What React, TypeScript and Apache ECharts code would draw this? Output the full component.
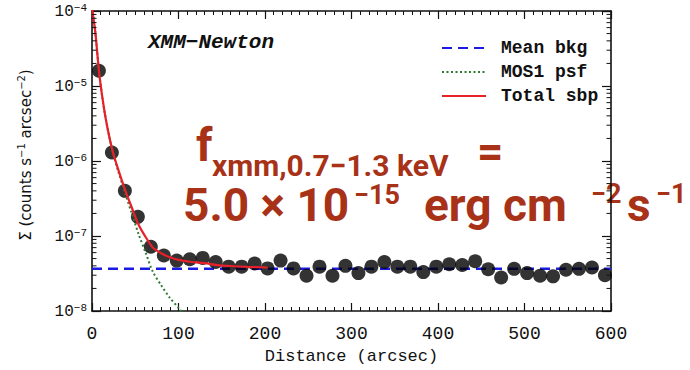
import React, { useEffect, useRef } from "react";
import * as echarts from "echarts";

// observed surface brightness profile points (arcsec, counts s^-1 arcsec^-2)
const distance = [8, 23, 38, 53, 68, 83, 98, 113, 128, 143, 158, 173, 188, 203, 218, 233, 248, 263, 278, 293, 308, 323, 338, 353, 368, 383, 398, 413, 428, 443, 458, 473, 488, 503, 518, 533, 548, 563, 578, 593];
const sigma = [1.6e-5, 1.3e-6, 4.0e-7, 1.8e-7, 7.2e-8, 5.5e-8, 4.7e-8, 4.9e-8, 5.1e-8, 4.5e-8, 3.9e-8, 3.9e-8, 4.3e-8, 3.7e-8, 4.7e-8, 3.7e-8, 2.95e-8, 3.9e-8, 2.95e-8, 4.0e-8, 3.2e-8, 3.9e-8, 4.5e-8, 3.9e-8, 3.9e-8, 3.3e-8, 3.9e-8, 4.2e-8, 4.1e-8, 4.6e-8, 3.6e-8, 2.8e-8, 3.65e-8, 3.2e-8, 2.95e-8, 2.9e-8, 3.55e-8, 3.65e-8, 3.8e-8, 3.0e-8];

// mean background level
const bkgX = [0, 600];
const bkgLevel = 3.65e-8;

// MOS1 psf model curve
const psfX = [0, 4, 8, 12, 16, 20, 24, 30, 38, 46, 54, 62, 70, 80, 90, 100, 108];
const psfY = [1.1e-4, 5e-5, 1.6e-5, 7e-6, 3.6e-6, 2.1e-6, 1.3e-6, 7.5e-7, 3.8e-7, 2.0e-7, 1.05e-7, 6e-8, 3.4e-8, 2.2e-8, 1.5e-8, 1.1e-8, 8.5e-9];

// total surface brightness profile model
const totX = [0, 4, 8, 12, 16, 20, 24, 30, 38, 46, 54, 62, 70, 80, 90, 100, 115, 130, 145, 160, 180, 203];
const totY = [1.1e-4, 5e-5, 1.6e-5, 7e-6, 3.6e-6, 2.1e-6, 1.34e-6, 7.9e-7, 4.2e-7, 2.4e-7, 1.4e-7, 9.7e-8, 7.1e-8, 5.9e-8, 5.2e-8, 4.8e-8, 4.5e-8, 4.35e-8, 4.1e-8, 3.98e-8, 3.88e-8, 3.8e-8];

const xTicks = [0, 100, 200, 300, 400, 500, 600];
const yDecades = [-8, -7, -6, -5, -4];

const seriesNames = ["Mean bkg", "MOS1 psf", "Total sbp"];

const MONO = "Liberation Mono";
const SANS = "DejaVu Sans";
const ARIAL = "Roboto";
const RED_TXT = "#a83217";

export default function App() {
  const ref = useRef<HTMLDivElement>(null);
  useEffect(() => {
    if (!ref.current) return;
    const chart = echarts.init(ref.current, undefined, { renderer: "svg" });

    const minorVals: number[] = [];
    for (let k = yDecades[0]; k < yDecades[yDecades.length - 1]; k++) {
      for (let m = 2; m <= 9; m++) minorVals.push(m * Math.pow(10, k));
    }

    const sup = (e: number) => `{b|10}{s|−${-e}}`;
    const axisColor = "#111";

    const big = (text: string, x: number, y: number, size: number) => ({
      type: "text",
      x,
      y,
      style: {
        text,
        fontFamily: ARIAL,
        fontWeight: "bold",
        fontSize: size,
        lineHeight: Math.round(size * 0.8),
        fill: RED_TXT,
        verticalAlign: "middle",
      },
    });

    const option: any = {
      animation: false,
      backgroundColor: "#fff",
      grid: { left: 92, right: 79, top: 11, bottom: 56, containLabel: false },
      xAxis: [
        {
          type: "value",
          position: "bottom",
          min: xTicks[0],
          max: xTicks[xTicks.length - 1],
          interval: 100,
          axisLine: { show: true, onZero: false, lineStyle: { color: axisColor, width: 1.6 } },
          axisTick: { show: true, inside: true, length: 8, lineStyle: { color: axisColor, width: 1.2 } },
          minorTick: { show: true, splitNumber: 10, length: 4, lineStyle: { color: axisColor, width: 1 } },
          axisLabel: { margin: 14, color: "#111", fontFamily: MONO, fontSize: 18 },
          splitLine: { show: false },
          name: "Distance (arcsec)",
          nameLocation: "middle",
          nameGap: 37,
          nameTextStyle: { color: "#111", fontFamily: MONO, fontSize: 17 },
        },
        {
          type: "value",
          position: "top",
          min: xTicks[0],
          max: xTicks[xTicks.length - 1],
          interval: 100,
          axisLine: { show: true, onZero: false, lineStyle: { color: axisColor, width: 1.6 } },
          axisTick: { show: true, inside: true, length: 8, lineStyle: { color: axisColor, width: 1.2 } },
          minorTick: { show: true, splitNumber: 10, length: 4, lineStyle: { color: axisColor, width: 1 } },
          axisLabel: { show: false },
          splitLine: { show: false },
        },
      ],
      yAxis: [
        {
          type: "log",
          logBase: 10,
          position: "left",
          min: Math.pow(10, yDecades[0]),
          max: Math.pow(10, yDecades[yDecades.length - 1]),
          axisLine: { show: true, onZero: false, lineStyle: { color: axisColor, width: 1.6 } },
          axisTick: { show: true, inside: true, length: 9, lineStyle: { color: axisColor, width: 1.2 } },
          axisLabel: {
            margin: 5,
            color: "#111",
            formatter: (v: number) => sup(Math.round(Math.log10(v))),
            rich: {
              b: { fontFamily: MONO, fontSize: 16, color: "#111", verticalAlign: "bottom" },
              s: { fontFamily: MONO, fontSize: 11, color: "#111", verticalAlign: "bottom", padding: [0, 0, 7, 0] },
            },
          },
          splitLine: { show: false },
        },
        {
          type: "log",
          logBase: 10,
          position: "right",
          min: Math.pow(10, yDecades[0]),
          max: Math.pow(10, yDecades[yDecades.length - 1]),
          axisLine: { show: true, onZero: false, lineStyle: { color: axisColor, width: 1.6 } },
          axisTick: { show: true, inside: true, length: 9, lineStyle: { color: axisColor, width: 1.2 } },
          axisLabel: { show: false },
          splitLine: { show: false },
        },
      ],
      legend: {
        data: seriesNames,
        orient: "vertical",
        left: 436,
        top: 34,
        itemWidth: 44,
        itemHeight: 14,
        itemGap: 6,
        itemStyle: { opacity: 0 },
        textStyle: { fontFamily: MONO, fontSize: 18, fontWeight: "bold", color: "#111", padding: [0, 0, 0, 10] },
        selectedMode: false,
      },
      series: [
        {
          name: "Mean bkg",
          type: "line",
          data: bkgX.map((x) => [x, bkgLevel]),
          showSymbol: false,
          symbol: "none",
          lineStyle: { color: "#1a1ae0", width: 2.5, type: [10, 6] },
          itemStyle: { color: "#1a1ae0" },
          z: 2,
        },
        {
          name: "points",
          type: "scatter",
          data: distance.map((x, i) => [x, sigma[i]]),
          symbol: "circle",
          symbolSize: 14,
          itemStyle: { color: "#000" },
          z: 3,
        },
        {
          name: "MOS1 psf",
          type: "line",
          data: psfX.map((x, i) => [x, psfY[i]]),
          smooth: 0.3,
          showSymbol: false,
          symbol: "none",
          lineStyle: { color: "#2e7a34", width: 2, type: [2, 2.5] },
          itemStyle: { color: "#2e7a34" },
          z: 4,
        },
        {
          name: "Total sbp",
          type: "line",
          data: totX.map((x, i) => [x, totY[i]]),
          smooth: 0.3,
          showSymbol: false,
          symbol: "none",
          lineStyle: { color: "#e8202a", width: 2.2 },
          itemStyle: { color: "#e8202a" },
          z: 5,
        },
        {
          name: "minorTicks",
          type: "custom",
          silent: true,
          data: minorVals.map((v) => [v]),
          renderItem: (params: any, api: any) => {
            const v = api.value(0);
            const l = api.coord([0, v]);
            const r = api.coord([600, v]);
            return {
              type: "group",
              children: [
                { type: "line", shape: { x1: l[0], y1: l[1], x2: l[0] + 4.5, y2: l[1] }, style: { stroke: axisColor, lineWidth: 1 } },
                { type: "line", shape: { x1: r[0] - 4.5, y1: r[1], x2: r[0], y2: r[1] }, style: { stroke: axisColor, lineWidth: 1 } },
              ],
            };
          },
          z: 6,
        },
      ],
      graphic: [
        {
          type: "text",
          x: 25,
          y: 155,
          rotation: Math.PI / 2,
          style: {
            text: "{n|Σ (counts s}{s|−1}{n| arcsec}{s|−2}{n|)}",
            align: "center",
            verticalAlign: "middle",
            rich: {
              n: { fontFamily: SANS, fontSize: 15, fill: "#111", verticalAlign: "bottom" },
              s: { fontFamily: SANS, fontSize: 10, fill: "#111", verticalAlign: "bottom", padding: [0, 0, 7, 0] },
            },
          },
        },
        {
          type: "text",
          x: 148,
          y: 42,
          style: {
            text: "XMM−Newton",
            fontFamily: MONO,
            fontStyle: "italic",
            fontWeight: "bold",
            fontSize: 21,
            fill: "#111",
            verticalAlign: "middle",
          },
        },
        big("f", 196, 145, 46),
        big("xmm,0.7−1.3 keV", 212, 165, 30),
        big("=", 477, 151, 46),
        big("5.0 × 10", 183, 205, 46),
        big("−15", 354, 195, 27),
        big("erg cm", 424, 205, 46),
        big("−2", 591, 194, 27),
        big("s", 627, 205, 46),
        big("−1", 656, 194, 27),
      ],
    };
    chart.setOption(option);
    return () => chart.dispose();
  }, []);
  return <div ref={ref} style={{ position: "fixed", left: 0, top: 0, width: 690, height: 370, background: "#fff" }} />;
}
